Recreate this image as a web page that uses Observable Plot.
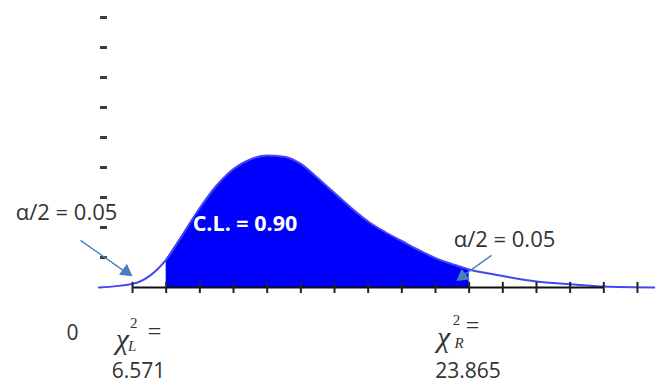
<!DOCTYPE html>
<html>
<head>
<meta charset="utf-8">
<script src="https://cdn.jsdelivr.net/npm/d3@7"></script>
<script src="https://cdn.jsdelivr.net/npm/@observablehq/plot@0.6"></script>
<style>
  html, body { margin: 0; padding: 0; background: #fff; }
</style>
</head>
<body>
<div id="chart"></div>
<script>
// Curve (x in axis units, y in units of the vertical dashes)
const curveX = [2, 4, 5, 6, 7, 8, 9, 10, 11, 12, 13, 14, 15, 16, 17, 18, 19, 20, 21, 22, 23, 24, 25, 26, 28, 30, 32, 35];
const curveY = [0, 0.12, 0.38, 0.93, 1.78, 2.65, 3.4, 3.95, 4.27, 4.4, 4.36, 4.12, 3.65, 3.15, 2.65, 2.2, 1.85, 1.55, 1.25, 0.98, 0.78, 0.6, 0.48, 0.38, 0.2, 0.11, 0.03, 0];
const shadeFrom = 6;
const shadeTo = 24;
const xTicks = [4, 6, 8, 10, 12, 14, 16, 18, 20, 22, 24, 26, 28, 30, 32, 34];
const yTicks = [1, 2, 3, 4, 5, 6, 7, 8, 9];
const zeroLabel = "0";
const chiLValue = "6.571";
const chiRValue = "23.865";
const alphaLabel = "α/2 = 0.05";
const clLabel = "C.L. = 0.90";

const curve = curveX.map((x, i) => ({x, y: curveY[i]}));
const shaded = curve.filter(d => d.x >= shadeFrom && d.x <= shadeTo);

const sans = "'Open Sans', sans-serif";
const serif = "'Liberation Serif', 'DejaVu Serif', serif";
const ink = "#333";
const arrowCol = "#4a7ebb";

const chart = Plot.plot({
  width: 656,
  height: 385,
  margin: 0,
  x: {domain: [-3.844, 35.13], axis: null},
  y: {domain: [-3.267, 9.567], axis: null},
  style: {background: "white"},
  marks: [
    Plot.areaY(shaded, {x: "x", y: "y", fill: "#0000ff", curve: "monotone-x"}),
    Plot.line(curve, {x: "x", y: "y", stroke: "#4646f0", strokeWidth: 2, curve: "monotone-x"}),
    Plot.ruleY([0], {x1: 4, x2: 32, stroke: "#111", strokeWidth: 2}),
    Plot.ruleX(xTicks, {x: d => d, y1: -0.2, y2: 0.17, stroke: "#222", strokeWidth: 2}),
    Plot.ruleY(yTicks, {y: d => d, x1: 2.1, x2: 2.51, stroke: "#3a3a3a", strokeWidth: 3}),
    // arrows
    Plot.link([{x1: 0.91, y1: 1.57, x2: 3.7, y2: 0.47}], {x1: "x1", y1: "y1", x2: "x2", y2: "y2", stroke: arrowCol, strokeWidth: 1.3}),
    Plot.dot([{x: 3.62, y: 0.53}], {x: "x", y: "y", symbol: "triangle", r: 5, fill: arrowCol, stroke: "none", rotate: 126}),
    Plot.link([{x1: 25.33, y1: 1.07, x2: 23.6, y2: 0.38}], {x1: "x1", y1: "y1", x2: "x2", y2: "y2", stroke: arrowCol, strokeWidth: 1.3}),
    Plot.dot([{x: 23.61, y: 0.37}], {x: "x", y: "y", symbol: "triangle", r: 5, fill: arrowCol, stroke: "none", rotate: 233}),
    // labels
    Plot.text([alphaLabel], {x: 0.08, y: 2.5, text: d => d, fontSize: 22, fontFamily: sans, fill: ink}),
    Plot.text([alphaLabel], {x: 26.1, y: 1.6, text: d => d, fontSize: 22, fontFamily: sans, fill: ink}),
    Plot.text([clLabel], {x: 10.68, y: 2.12, text: d => d, fontSize: 21.5, fontWeight: "bold", fontFamily: sans, fill: "white"}),
    Plot.text([zeroLabel], {x: 0.43, y: -1.53, text: d => d, fontSize: 21, fontFamily: sans, fill: ink}),
    Plot.text([chiLValue], {x: 4.36, y: -2.78, text: d => d, fontSize: 21, fontFamily: sans, fill: ink}),
    Plot.text([chiRValue], {x: 23.93, y: -2.78, text: d => d, fontSize: 21, fontFamily: sans, fill: ink}),
    // chi-square symbols
    Plot.text(["χ"], {x: 3.4, y: -1.72, text: d => d, fontSize: 30, fontStyle: "italic", fontFamily: serif, fill: ink}),
    Plot.text(["2"], {x: 4.08, y: -1.2, text: d => d, fontSize: 15, fontFamily: serif, fill: ink}),
    Plot.text(["L"], {x: 3.98, y: -1.95, text: d => d, fontSize: 15, fontStyle: "italic", fontFamily: serif, fill: ink}),
    Plot.text(["="], {x: 5.31, y: -1.47, text: d => d, fontSize: 24, fontFamily: serif, fill: ink}),
    Plot.text(["χ"], {x: 22.48, y: -1.67, text: d => d, fontSize: 30, fontStyle: "italic", fontFamily: serif, fill: ink}),
    Plot.text(["2"], {x: 23.25, y: -1.1, text: d => d, fontSize: 15, fontFamily: serif, fill: ink}),
    Plot.text(["R"], {x: 23.4, y: -1.85, text: d => d, fontSize: 15, fontStyle: "italic", fontFamily: serif, fill: ink}),
    Plot.text(["="], {x: 24.2, y: -1.27, text: d => d, fontSize: 24, fontFamily: serif, fill: ink})
  ]
});
document.getElementById("chart").appendChild(chart);
</script>
</body>
</html>
